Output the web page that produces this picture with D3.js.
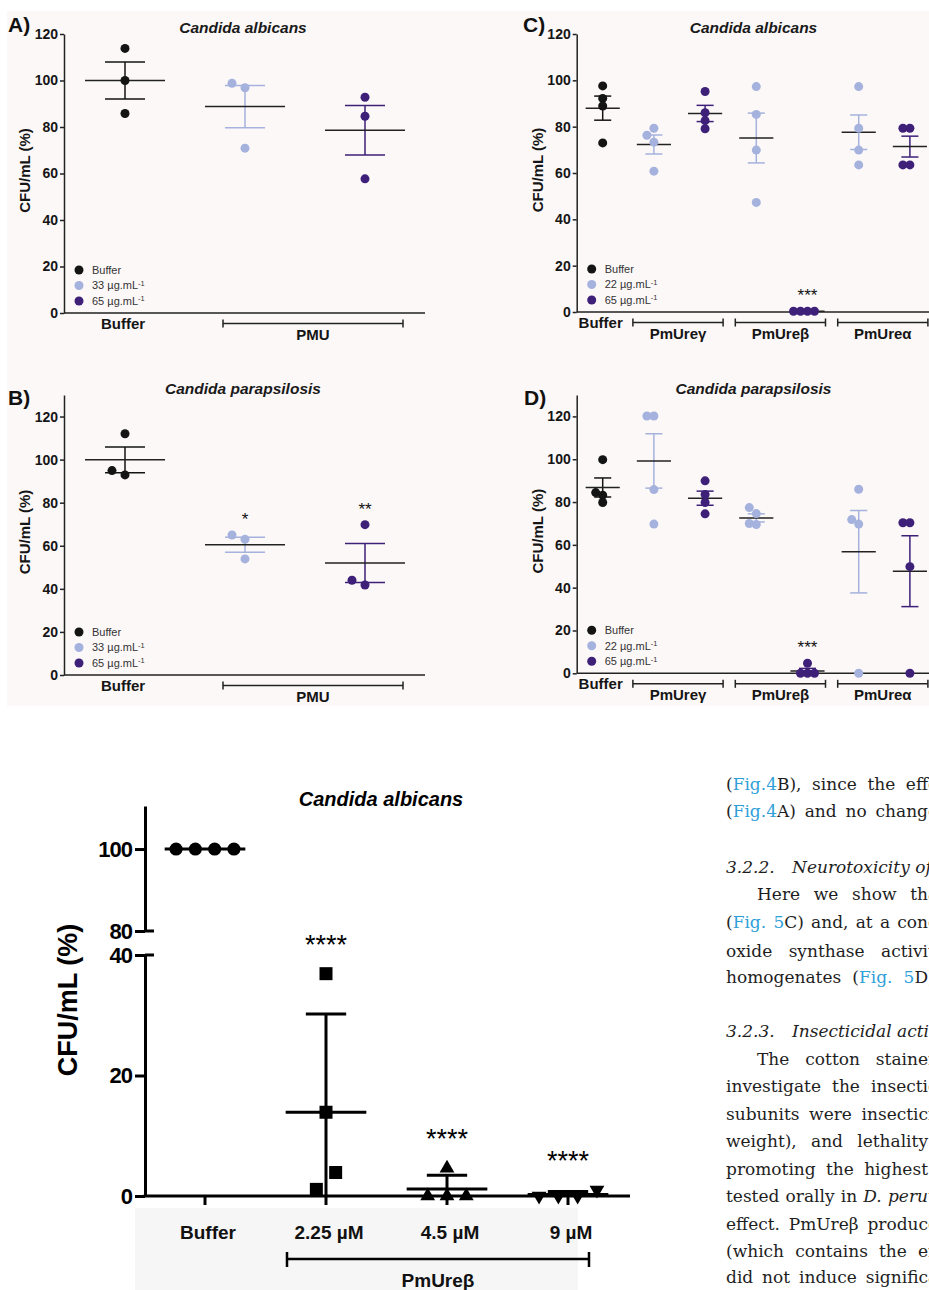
<!DOCTYPE html>
<html>
<head>
<meta charset="utf-8">
<script src="https://cdn.jsdelivr.net/npm/d3@7"></script>
<style>
body { margin: 0; background: #fff; }
svg { display: block; }
text { font-family: "Liberation Sans", Arial, sans-serif; }
.body-text text { font-family: "DejaVu Serif", serif; font-size: 17px; fill: #1e1e1e; }
</style>
</head>
<body>
<div id="figure"></div>
<script>
// ---------- panels A / B : whole PMU ----------
var pmuGroups = ["Buffer", "33", "65"];
var pmuLegend = ["Buffer", "33 µg.mL", "65 µg.mL"];
var pmuBrackets = [{label: "PMU", from: "33", to: "65"}];

var albicansPMU = [[113.8, 100, 85.8], [98.8, 96.9, 70.9], [92.8, 84.6, 57.7]];
var albicansPMUMean = [100, 88.8, 78.6];
var albicansPMUSem = [8, 9.1, 10.65];
var albicansPMUStars = ["", "", ""];

var parapsilosisPMU = [[112, 92.9, 94.9], [65, 63, 53.9], [69.8, 41.8, 44]];
var parapsilosisPMUMean = [99.9, 60.5, 52];
var parapsilosisPMUSem = [6, 3.5, 9];
var parapsilosisPMUStars = ["", "*", "**"];

// ---------- panels C / D : subunits ----------
var subGroups = ["Buffer", "γ22", "γ65", "β22", "β65", "α22", "α65"];
var subLegend = ["Buffer", "22 µg.mL", "65 µg.mL"];
var subBrackets = [
    {label: "PmUreγ", from: "γ22", to: "γ65"},
    {label: "PmUreβ", from: "β22", to: "β65"},
    {label: "PmUreα", from: "α22", to: "α65"}
];

var albicansSub = [[97.6, 92.2, 88.9, 73], [79.3, 76.3, 73.3, 60.8], [95.2, 86, 82.6, 79.1],
                   [97.3, 85.3, 69.9, 47.3], [0.3, 0.3, 0.3, 0.3], [97.3, 79.3, 69.9, 63.5], [79.3, 79.3, 63.5, 63.5]];
var albicansSubMean = [88, 72.3, 85.7, 75.1, 0.3, 77.6, 71.4];
var albicansSubSem = [5.2, 4.1, 3.5, 10.75, 0, 7.45, 4.5];
var albicansSubStars = ["", "", "", "", "***", "", ""];

var parapsilosisSub = [[99.8, 84.4, 83.2, 79.8], [120.2, 120.2, 85.8, 69.7], [89.9, 83.5, 79.8, 74.5],
                       [77.4, 74.6, 70, 69.5], [4.7, 0, 0, 0], [86, 71.8, 69.7, 0], [70.3, 70.3, 49.8, 0]];
var parapsilosisSubMean = [86.8, 99.2, 81.8, 72.6, 1.1, 56.8, 47.7];
var parapsilosisSubSem = [4.45, 12.7, 3.3, 1.9, 1.2, 19.25, 16.55];
var parapsilosisSubStars = ["", "", "", "", "***", "", ""];

// ---------- bottom chart : PmUreβ doses ----------
var doseGroups = ["Buffer", "2.25 µM", "4.5 µM", "9 µM"];
var doseValues = [[100, 100, 100, 100], [36.9, 13.9, 3.9, 1.1], [4.6, 0, 0, 0], [0, 0, 0, 1]];
var doseMean = [100, 13.9, 1.15, 0.25];
var doseSD = [0, 16.3, 2.3, 0.5];
var doseStars = ["", "****", "****", "****"];
var upperTicks = [80, 100];
var lowerTicks = [0, 20, 40];

// ---------- text column on the right ([..] = link blue, _.._ = italic) ----------
var bodyText = [
    {y: 790, x: 726, words: ["([Fig.4]B),", "since", "the", "effect"], cut: 3},
    {y: 817, x: 726, words: ["([Fig.4]A)", "and", "no", "change"], cut: 5},
    {y: 873, x: 726, italic: true, words: ["3.2.2."]},
    {y: 873, x: 792, italic: true, words: ["Neurotoxicity", "of"]},
    {y: 900, x: 757, words: ["Here", "we", "show", "that"], cut: 2},
    {y: 928, x: 726, words: ["([Fig.]", "[5]C)", "and,", "at", "a", "concentration"], cut: 3},
    {y: 957, x: 726, words: ["oxide", "synthase", "activity"], cut: 6},
    {y: 983, x: 726, words: ["homogenates", "([Fig.]", "[5]D)."], cut: 2},
    {y: 1037, x: 726, italic: true, words: ["3.2.3."]},
    {y: 1037, x: 792, italic: true, words: ["Insecticidal", "activity"]},
    {y: 1065, x: 757, words: ["The", "cotton", "stainer"], cut: 6},
    {y: 1092, x: 726, words: ["investigate", "the", "insecticidal"], cut: 7},
    {y: 1120, x: 726, words: ["subunits", "were", "insecticidal"], cut: 8},
    {y: 1147, x: 726, words: ["weight),", "and", "lethality"], cut: 9},
    {y: 1175, x: 726, words: ["promoting", "the", "highest"], cut: 7},
    {y: 1202, x: 726, words: ["tested", "orally", "in", "_D._", "_peruvianus_"], cut: 4},
    {y: 1230, x: 726, words: ["effect.", "PmUreβ", "produced"], cut: 6},
    {y: 1257, x: 726, words: ["(which", "contains", "the", "entomotoxic"], cut: 1},
    {y: 1283, x: 726, words: ["did", "not", "induce", "significant"], cut: 8}
];

var svg = d3.select("#figure").append("svg")
    .attr("width", 929)
    .attr("height", 1290);

// pale backdrop behind the four small panels
svg.append("rect")
    .attr("x", 7).attr("y", 11)
    .attr("width", 922).attr("height", 695)
    .attr("fill", "#fcf8f8");

var doseColor = d3.scaleOrdinal()
    .domain(["buffer", "low", "high"])
    .range(["#141414", "#a5b2dd", "#3e2079"]);

var doseOf = function(i) { return i === 0 ? "buffer" : (i % 2 ? "low" : "high"); };

// greedy side-by-side spreading of overlapping dots (like prism scatter)
var spread = function(vals, y, step)
{
    var order = vals.map(function(v, i) { return i; })
        .sort(function(a, b) { return vals[a] - vals[b]; });
    var placed = [], dx = [];
    order.forEach(function(i)
    {
        var py = y(vals[i]);
        for (var k = 0; k < 20; k++)
        {
            var off = k === 0 ? 0 : (k % 2 ? -1 : 1) * Math.ceil(k / 2) * step;
            var free = placed.every(function(p) { return Math.hypot(p.x - off, p.y - py) >= step - 0.01; });
            if (free) { placed.push({x: off, y: py}); dx[i] = off; break; }
        }
    });
    return dx;
};

// centred rows for the big chart
var spreadCentered = function(vals, y, step, thr)
{
    var order = vals.map(function(v, i) { return i; })
        .sort(function(a, b) { return vals[a] - vals[b]; });
    var dx = [], cluster = [];
    var flush = function()
    {
        cluster.forEach(function(i, j) { dx[i] = (j - (cluster.length - 1) / 2) * step; });
        cluster = [];
    };
    order.forEach(function(i)
    {
        if (cluster.length && Math.abs(y(vals[i]) - y(vals[cluster[cluster.length - 1]])) > thr) flush();
        cluster.push(i);
    });
    flush();
    return dx;
};

var drawPanel = function(p)
{
    var g = svg.append("g");
    var y = d3.scaleLinear().domain([0, p.yMax]).range([p.yZero, p.yTop]);
    var x = d3.scalePoint().domain(p.groups).range(p.catRange);
    var step = x.step();

    var yAxis = d3.axisLeft(y)
        .tickValues(d3.range(0, 121, 20))
        .tickSize(4).tickPadding(2).tickSizeOuter(0);

    var ya = g.append("g")
        .attr("transform", "translate(" + p.axisX + ",0)")
        .call(yAxis);
    ya.select(".domain").attr("stroke", "#222").attr("stroke-width", 1.5);
    ya.selectAll(".tick line").attr("stroke", "#222").attr("stroke-width", 1.5);
    ya.selectAll(".tick text").attr("font-size", 14).attr("font-weight", "bold").attr("fill", "#151515");

    g.append("line")
        .attr("x1", p.axisX).attr("x2", p.xEnd)
        .attr("y1", p.yZero).attr("y2", p.yZero)
        .attr("stroke", "#222").attr("stroke-width", 1.5);

    // error bars and means
    p.groups.forEach(function(grp, gi)
    {
        var cx = x(grp), m = p.means[gi], s = p.sems[gi];
        var col = doseColor(doseOf(gi));
        if (s > 0)
        {
            g.append("line").attr("x1", cx).attr("x2", cx)
                .attr("y1", y(m - s)).attr("y2", y(m + s))
                .attr("stroke", col).attr("stroke-width", 1.5);
            [m - s, m + s].forEach(function(v)
            {
                g.append("line").attr("x1", cx - step / 6).attr("x2", cx + step / 6)
                    .attr("y1", y(v)).attr("y2", y(v))
                    .attr("stroke", col).attr("stroke-width", 1.5);
            });
        }
        g.append("line").attr("x1", cx - step / 3).attr("x2", cx + step / 3)
            .attr("y1", y(m)).attr("y2", y(m))
            .attr("stroke", "#222").attr("stroke-width", 1.5);
    });

    // the dots
    p.values.forEach(function(vals, gi)
    {
        var dx = spread(vals, y, p.step);
        g.selectAll(null)
            .data(vals)
            .enter()
            .append("circle")
            .attr("cx", function(d, i) { return x(p.groups[gi]) + dx[i]; })
            .attr("cy", function(d) { return y(d); })
            .attr("r", 4.5)
            .attr("fill", doseColor(doseOf(gi)));

        if (p.stars[gi])
        {
            g.append("text")
                .attr("x", x(p.groups[gi]))
                .attr("y", y(d3.max(vals)) - 10)
                .attr("text-anchor", "middle")
                .attr("font-size", 17)
                .attr("fill", "#111")
                .text(p.stars[gi]);
        }
    });

    // titles and labels
    g.append("text")
        .attr("x", p.letterX).attr("y", p.letterY)
        .attr("font-size", 21).attr("font-weight", "bold").attr("fill", "#111")
        .text(p.letter);

    g.append("text")
        .attr("x", p.titleX).attr("y", p.yTop - 1)
        .attr("text-anchor", "middle")
        .attr("font-size", 15.5).attr("font-weight", "bold").attr("font-style", "italic").attr("fill", "#1a1a1a")
        .text(p.title);

    g.append("text")
        .attr("transform", "translate(" + (p.axisX - 39) + "," + ((p.yZero + p.yTop) / 2 - 3) + ") rotate(-90)")
        .attr("text-anchor", "middle")
        .attr("dy", "0.35em")
        .attr("font-size", 15).attr("font-weight", "bold").attr("fill", "#151515")
        .text("CFU/mL (%)");

    g.append("text")
        .attr("x", x(p.groups[0]) - 2).attr("y", p.yZero + 16)
        .attr("text-anchor", "middle")
        .attr("font-size", 15).attr("font-weight", "bold").attr("fill", "#151515")
        .text("Buffer");

    p.brackets.forEach(function(b)
    {
        var x1 = x(b.from) - p.pad[0], x2 = x(b.to) + p.pad[1], by = p.yZero + 10.5;
        g.append("line").attr("x1", x1).attr("x2", x2).attr("y1", by).attr("y2", by)
            .attr("stroke", "#222").attr("stroke-width", 1.5);
        [x1, x2].forEach(function(xx)
        {
            g.append("line").attr("x1", xx).attr("x2", xx).attr("y1", by - 4).attr("y2", by + 4)
                .attr("stroke", "#222").attr("stroke-width", 1.5);
        });
        g.append("text")
            .attr("x", (x1 + x2) / 2).attr("y", p.yZero + 27)
            .attr("text-anchor", "middle")
            .attr("font-size", 15).attr("font-weight", "bold").attr("fill", "#151515")
            .text(b.label);
    });

    // legend
    var leg = g.selectAll(".leg")
        .data(p.legend)
        .enter()
        .append("g")
        .attr("transform", function(d, i) { return "translate(" + (p.axisX + 15) + "," + (p.yZero - 43 + i * 15.5) + ")"; });
    leg.append("circle").attr("r", 4.5).attr("fill", function(d, i) { return doseColor(doseOf(i)); });
    var lt = leg.append("text")
        .attr("x", 13).attr("dy", "0.35em")
        .attr("font-size", 11).attr("fill", "#333")
        .text(function(d) { return d; });
    lt.filter(function(d, i) { return i > 0; })
        .append("tspan")
        .attr("dy", "-0.45em")
        .attr("font-size", 7.5)
        .text("-1");
};

drawPanel({letter: "A)", letterX: 8, letterY: 32, title: "Candida albicans", titleX: 243,
    axisX: 64, xEnd: 425, yZero: 313, yTop: 34, yMax: 120, catRange: [125, 365], step: 13, pad: [22, 38],
    groups: pmuGroups, values: albicansPMU, means: albicansPMUMean, sems: albicansPMUSem,
    stars: albicansPMUStars, brackets: pmuBrackets, legend: pmuLegend});

drawPanel({letter: "B)", letterX: 8, letterY: 405, title: "Candida parapsilosis", titleX: 243,
    axisX: 64, xEnd: 425, yZero: 675, yTop: 395, yMax: 130, catRange: [125, 365], step: 13, pad: [22, 38],
    groups: pmuGroups, values: parapsilosisPMU, means: parapsilosisPMUMean, sems: parapsilosisPMUSem,
    stars: parapsilosisPMUStars, brackets: pmuBrackets, legend: pmuLegend});

drawPanel({letter: "C)", letterX: 523, letterY: 32, title: "Candida albicans", titleX: 753.5,
    axisX: 576.7, xEnd: 940, yZero: 312, yTop: 34, yMax: 120, catRange: [602.7, 909.9], step: 7, pad: [21, 18],
    groups: subGroups, values: albicansSub, means: albicansSubMean, sems: albicansSubSem,
    stars: albicansSubStars, brackets: subBrackets, legend: subLegend});

drawPanel({letter: "D)", letterX: 524, letterY: 405, title: "Candida parapsilosis", titleX: 753.5,
    axisX: 576.7, xEnd: 940, yZero: 673.3, yTop: 395, yMax: 130, catRange: [602.7, 909.9], step: 7, pad: [21, 18],
    groups: subGroups, values: parapsilosisSub, means: parapsilosisSubMean, sems: parapsilosisSubSem,
    stars: parapsilosisSubStars, brackets: subBrackets, legend: subLegend});

// ---------- the big broken-axis chart ----------
var big = svg.append("g");
var axX = 145;
var yUp = d3.scaleLinear().domain([80, 110.5]).range([931, 806]);
var yLow = d3.scaleLinear().domain([0, 40]).range([1196, 955]);
var yB = function(v) { return v > 60 ? yUp(v) : yLow(v); };
var xB = d3.scalePoint().domain(doseGroups).range([205, 568]);
var stepB = xB.step();

big.append("rect")
    .attr("x", 135).attr("y", 1208)
    .attr("width", 443).attr("height", 82)
    .attr("fill", "#f6f6f6");

[[yUp, upperTicks], [yLow, lowerTicks]].forEach(function(a)
{
    var ax = big.append("g")
        .attr("transform", "translate(" + axX + ",0)")
        .call(d3.axisLeft(a[0]).tickValues(a[1]).tickSize(10).tickPadding(3).tickSizeOuter(0));
    ax.select(".domain").attr("stroke", "#000").attr("stroke-width", 3);
    ax.selectAll(".tick line").attr("stroke", "#000").attr("stroke-width", 3);
    ax.selectAll(".tick text").attr("font-size", 22).attr("font-weight", "bold")
        .attr("fill", "#000").attr("letter-spacing", -1);
});

// break marks stick out on the right
[yUp(80), yLow(40)].forEach(function(yy)
{
    big.append("line").attr("x1", axX).attr("x2", axX + 9).attr("y1", yy).attr("y2", yy)
        .attr("stroke", "#000").attr("stroke-width", 3);
});

big.append("line")
    .attr("x1", axX - 1.5).attr("x2", 630)
    .attr("y1", yLow(0)).attr("y2", yLow(0))
    .attr("stroke", "#000").attr("stroke-width", 3);

big.selectAll(".xtick")
    .data(doseGroups)
    .enter()
    .append("line")
    .attr("x1", function(d) { return xB(d); })
    .attr("x2", function(d) { return xB(d); })
    .attr("y1", yLow(0)).attr("y2", yLow(0) + 9)
    .attr("stroke", "#000").attr("stroke-width", 3);

var shapes = [d3.symbolCircle, d3.symbolSquare, d3.symbolTriangle, d3.symbolTriangle];
var shapeSize = [135, 169, 95, 95];

doseGroups.forEach(function(grp, gi)
{
    var cx = xB(grp), m = doseMean[gi], s = doseSD[gi];
    if (s > 0)
    {
        var lo = Math.max(0, m - s);
        big.append("line").attr("x1", cx).attr("x2", cx)
            .attr("y1", yB(lo)).attr("y2", yB(m + s))
            .attr("stroke", "#000").attr("stroke-width", 3);
        big.append("line").attr("x1", cx - stepB / 6).attr("x2", cx + stepB / 6)
            .attr("y1", yB(m + s)).attr("y2", yB(m + s))
            .attr("stroke", "#000").attr("stroke-width", 3);
    }
    big.append("line").attr("x1", cx - stepB / 3).attr("x2", cx + stepB / 3)
        .attr("y1", yB(m)).attr("y2", yB(m))
        .attr("stroke", "#000").attr("stroke-width", 3);

    var vals = doseValues[gi];
    var dx = spreadCentered(vals, yB, 19.3, 20);
    big.selectAll(null)
        .data(vals)
        .enter()
        .append("path")
        .attr("d", d3.symbol().type(shapes[gi]).size(shapeSize[gi]))
        .attr("transform", function(d, i)
        {
            return "translate(" + (cx + dx[i]) + "," + yB(d) + ")" + (gi === 3 ? " rotate(180)" : "");
        })
        .attr("fill", "#000");

    if (doseStars[gi])
    {
        big.append("text")
            .attr("x", cx).attr("y", yB(d3.max(vals)) - 20)
            .attr("text-anchor", "middle")
            .attr("font-size", 27).attr("fill", "#000")
            .text(doseStars[gi]);
    }
});

big.selectAll(".xlab")
    .data(doseGroups)
    .enter()
    .append("text")
    .attr("x", function(d) { return xB(d) + 3; })
    .attr("y", 1239)
    .attr("text-anchor", "middle")
    .attr("font-size", 19).attr("font-weight", "bold").attr("fill", "#111")
    .text(function(d) { return d; });

var brX1 = xB(doseGroups[1]) - 39, brX2 = xB(doseGroups[3]) + 21, brY = 1259;
big.append("line").attr("x1", brX1).attr("x2", brX2).attr("y1", brY).attr("y2", brY)
    .attr("stroke", "#000").attr("stroke-width", 2.5);
[brX1, brX2].forEach(function(xx)
{
    big.append("line").attr("x1", xx).attr("x2", xx).attr("y1", brY - 7).attr("y2", brY + 8)
        .attr("stroke", "#000").attr("stroke-width", 2.5);
});
big.append("text")
    .attr("x", (brX1 + brX2) / 2).attr("y", 1287)
    .attr("text-anchor", "middle")
    .attr("font-size", 19).attr("font-weight", "bold").attr("fill", "#111")
    .text("PmUreβ");

big.append("text")
    .attr("x", 381).attr("y", 806)
    .attr("text-anchor", "middle")
    .attr("font-size", 20).attr("font-weight", "bold").attr("font-style", "italic").attr("fill", "#000")
    .text("Candida albicans");

big.append("text")
    .attr("transform", "translate(68,1000) rotate(-90)")
    .attr("text-anchor", "middle")
    .attr("dy", "0.35em")
    .attr("font-size", 27).attr("font-weight", "bold").attr("fill", "#000")
    .text("CFU/mL (%)");

// ---------- body text, justified so the column runs off the right edge ----------
var bt = svg.append("g").attr("class", "body-text");
var probe = bt.append("text").attr("visibility", "hidden");
var plain = function(w) { return w.replace(/[\[\]_]/g, ""); };
var widthOf = function(str, italic)
{
    probe.text(str).attr("font-style", italic ? "italic" : "normal");
    return probe.node().getComputedTextLength();
};
var spaceW = widthOf("a a") - widthOf("aa");
var rightEdge = 928;

bodyText.forEach(function(line)
{
    var isIt = function(w) { return line.italic || w[0] === "_"; };
    var widths = line.words.map(function(w) { return widthOf(plain(w), isIt(w)); });
    var gap = spaceW;
    if (line.cut !== undefined && line.words.length > 1)
    {
        var last = line.words[line.words.length - 1];
        var used = d3.sum(widths.slice(0, -1)) + widthOf(plain(last).slice(0, line.cut), isIt(last));
        gap = Math.max(spaceW * 0.8, (rightEdge - line.x - used) / (line.words.length - 1));
    }
    var cx = line.x;
    line.words.forEach(function(w, i)
    {
        var t = bt.append("text").attr("x", cx).attr("y", line.y);
        if (line.italic) t.attr("font-style", "italic");
        w.split(/(\[[^\]]*\]|_[^_]*_)/).filter(function(s) { return s.length; }).forEach(function(s)
        {
            var ts = t.append("tspan");
            if (s[0] === "[") ts.text(s.slice(1, -1)).attr("fill", "#2f9fd9");
            else if (s[0] === "_") ts.text(s.slice(1, -1)).attr("font-style", "italic");
            else ts.text(s);
        });
        cx += widths[i] + gap;
    });
});
probe.remove();
</script>
</body>
</html>
